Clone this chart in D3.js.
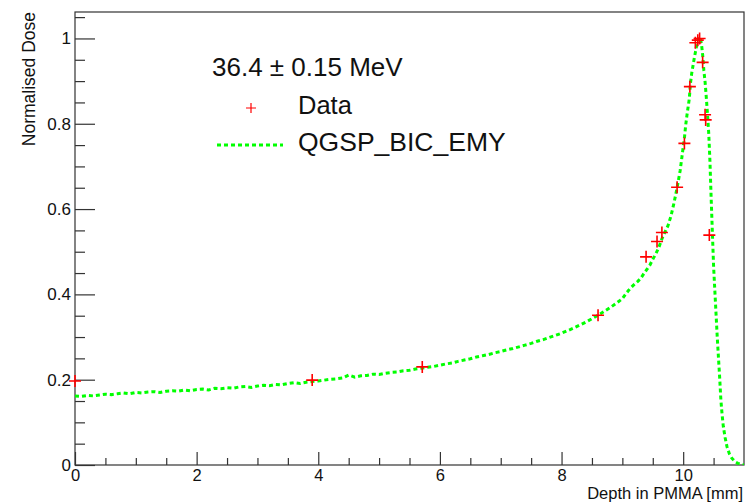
<!DOCTYPE html>
<html>
<head>
<meta charset="utf-8">
<script src="https://cdn.jsdelivr.net/npm/d3@7"></script>
<style>
  html, body { margin: 0; padding: 0; background: #fff; }
  svg { display: block; }
  text { font-family: "Liberation Sans", Arial, Helvetica, sans-serif; fill: #111; }
</style>
</head>
<body>
<svg id="chart" width="752" height="503"></svg>
<script>
// Measured Bragg curve (red crosses)
const dataDepth = [0.00, 3.90, 5.71, 8.60, 9.39, 9.57, 9.65, 9.90, 10.02, 10.11, 10.20, 10.24, 10.27, 10.32, 10.36, 10.37, 10.43];
const dataDose  = [0.197, 0.199, 0.230, 0.351, 0.488, 0.524, 0.545, 0.651, 0.754, 0.887, 0.990, 0.996, 1.000, 0.944, 0.821, 0.809, 0.539];

// Geant4 QGSP_BIC_EMY simulation (green dotted histogram)
const simDepth = [
  0.0, 0.1, 0.2, 0.3, 0.4, 0.5, 0.6, 0.7, 0.8, 0.9,
  1.0, 1.1, 1.2, 1.3, 1.4, 1.5, 1.6, 1.7, 1.8, 1.9,
  2.0, 2.1, 2.2, 2.3, 2.4, 2.5, 2.6, 2.7, 2.8, 2.9,
  3.0, 3.1, 3.2, 3.3, 3.4, 3.5, 3.6, 3.7, 3.8, 3.9,
  4.0, 4.1, 4.2, 4.3, 4.4, 4.5, 4.6, 4.7, 4.8, 4.9,
  5.0, 5.1, 5.2, 5.3, 5.4, 5.5, 5.6, 5.7, 5.8, 5.9,
  6.0, 6.1, 6.2, 6.3, 6.4, 6.5, 6.6, 6.7, 6.8, 6.9,
  7.0, 7.1, 7.2, 7.3, 7.4, 7.5, 7.6, 7.7, 7.8, 7.9,
  8.0, 8.1, 8.2, 8.3, 8.4, 8.5, 8.6, 8.7, 8.8, 8.9,
  9.0, 9.05, 9.10, 9.15, 9.20, 9.25, 9.30, 9.35, 9.40, 9.45,
  9.50, 9.55, 9.60, 9.65, 9.70, 9.75, 9.80, 9.85, 9.90, 9.95,
  10.00, 10.02, 10.04, 10.06, 10.08, 10.10, 10.12, 10.14, 10.16, 10.18,
  10.20, 10.22, 10.24, 10.26, 10.28, 10.30, 10.32, 10.34, 10.36, 10.38,
  10.40, 10.42, 10.44, 10.46, 10.48, 10.50, 10.52, 10.54, 10.56, 10.58,
  10.60, 10.62, 10.64, 10.66, 10.69, 10.72, 10.76, 10.80, 10.85, 10.90,
  10.95, 11.00
];
const simDose = [
  0.162, 0.161, 0.163, 0.162, 0.164, 0.166, 0.165, 0.167, 0.169, 0.167,
  0.170, 0.169, 0.171, 0.172, 0.170, 0.173, 0.174, 0.173, 0.176, 0.174,
  0.177, 0.178, 0.176, 0.180, 0.179, 0.181, 0.180, 0.183, 0.184, 0.182,
  0.185, 0.187, 0.186, 0.189, 0.188, 0.191, 0.193, 0.191, 0.194, 0.196,
  0.197, 0.199, 0.201, 0.202, 0.204, 0.211, 0.206, 0.209, 0.210, 0.213,
  0.212, 0.215, 0.217, 0.218, 0.221, 0.222, 0.225, 0.227, 0.229, 0.231,
  0.234, 0.237, 0.239, 0.243, 0.246, 0.249, 0.253, 0.256, 0.259, 0.263,
  0.266, 0.270, 0.273, 0.277, 0.281, 0.285, 0.290, 0.294, 0.299, 0.304,
  0.309, 0.315, 0.321, 0.328, 0.335, 0.343, 0.351, 0.360, 0.369, 0.379,
  0.390, 0.400, 0.409, 0.417, 0.424, 0.430, 0.437, 0.448, 0.458, 0.468,
  0.482, 0.495, 0.510, 0.530, 0.546, 0.561, 0.584, 0.615, 0.650, 0.690,
  0.745, 0.766, 0.795, 0.818, 0.838, 0.858, 0.895, 0.918, 0.935, 0.952,
  0.967, 0.982, 0.996, 1.003, 1.000, 0.988, 0.962, 0.925, 0.898, 0.862,
  0.822, 0.778, 0.712, 0.625, 0.545, 0.466, 0.410, 0.355, 0.300, 0.252,
  0.205, 0.152, 0.118, 0.090, 0.064, 0.043, 0.026, 0.016, 0.008, 0.004,
  0.001, 0.000
];

const xMajorTicks = [0, 2, 4, 6, 8, 10];
const xTickLabels = ["0", "2", "4", "6", "8", "10"];
const xMinorTicks = [0.5, 1, 1.5, 2.5, 3, 3.5, 4.5, 5, 5.5, 6.5, 7, 7.5, 8.5, 9, 9.5, 10.5];
const yMajorTicks = [0, 0.2, 0.4, 0.6, 0.8, 1.0];
const yTickLabels = ["0", "0.2", "0.4", "0.6", "0.8", "1"];
const yMinorTicks = [0.05, 0.1, 0.15, 0.25, 0.3, 0.35, 0.45, 0.5, 0.55, 0.65, 0.7, 0.75, 0.85, 0.9, 0.95, 1.05];

const xTitle = "Depth in PMMA [mm]";
const yTitle = "Normalised Dose";
const legendHeader = "36.4 \u00B1 0.15 MeV";
const legendData = "Data";
const legendSim = "QGSP_BIC_EMY";

// Frame geometry
const frame = { left: 75, right: 744, top: 12, bottom: 465 };
const svg = d3.select("#chart");

const x = d3.scaleLinear().domain([0, 11]).range([frame.left, frame.right]);
const y = d3.scaleLinear().domain([0, 1.062]).range([frame.bottom, frame.top]);

const AXIS_COLOR = "#333";
const FONT_STACK = '"Liberation Sans", Arial, Helvetica, sans-serif';

// Frame box
svg.append("rect")
  .attr("x", frame.left).attr("y", frame.top)
  .attr("width", frame.right - frame.left).attr("height", frame.bottom - frame.top)
  .attr("fill", "#fff").attr("stroke", AXIS_COLOR).attr("stroke-width", 1.2);

svg.append("clipPath").attr("id", "plotClip")
  .append("rect")
  .attr("x", frame.left).attr("y", frame.top)
  .attr("width", frame.right - frame.left).attr("height", frame.bottom - frame.top);

function styleAxis(size) {
  return g => {
    g.select(".domain").remove();
    g.selectAll(".tick line").attr("stroke", AXIS_COLOR).attr("stroke-width", 1.2);
    g.selectAll(".tick text")
      .attr("fill", "#111")
      .style("font-size", size + "px")
      .style("font-family", FONT_STACK);
  };
}

// X axis: major and minor ticks point into the frame
svg.append("g")
  .attr("transform", `translate(0,${frame.bottom})`)
  .call(d3.axisBottom(x).tickValues(xMajorTicks).tickSize(-13).tickPadding(4)
    .tickFormat((d, i) => xTickLabels[i]))
  .call(styleAxis(16.5));
svg.append("g")
  .attr("transform", `translate(0,${frame.bottom})`)
  .call(d3.axisBottom(x).tickValues(xMinorTicks).tickSize(-7).tickFormat(""))
  .call(styleAxis(16.5));

// Y axis
svg.append("g")
  .attr("transform", `translate(${frame.left},0)`)
  .call(d3.axisLeft(y).tickValues(yMajorTicks).tickSize(-20).tickPadding(4)
    .tickFormat((d, i) => yTickLabels[i]))
  .call(styleAxis(17));
svg.append("g")
  .attr("transform", `translate(${frame.left},0)`)
  .call(d3.axisLeft(y).tickValues(yMinorTicks).tickSize(-10).tickFormat(""))
  .call(styleAxis(17));

// Axis titles
svg.append("text")
  .attr("x", frame.right - 1).attr("y", 499.4)
  .attr("text-anchor", "end")
  .style("font-size", "16.5px")
  .text(xTitle);

svg.append("text")
  .attr("transform", `translate(35,${frame.top}) rotate(-90)`)
  .attr("text-anchor", "end")
  .style("font-size", "17.5px")
  .text(yTitle);

// Simulation curve
const GREEN = "#00ff00";
const simPoints = simDepth.map((d, i) => [d, simDose[i]]);
svg.append("path")
  .datum(simPoints)
  .attr("clip-path", "url(#plotClip)")
  .attr("fill", "none")
  .attr("stroke", GREEN)
  .attr("stroke-width", 3)
  .attr("stroke-dasharray", "4,3")
  .attr("d", d3.line().x(d => x(d[0])).y(d => y(d[1])));

// Data crosses
const RED = "#ff0000";
function crossPath(cx, cy, h) {
  return `M${cx - h},${cy}H${cx + h}M${cx},${cy - h}V${cy + h}`;
}
svg.append("g")
  .selectAll("path")
  .data(dataDepth.map((d, i) => [d, dataDose[i]]))
  .join("path")
  .attr("d", d => crossPath(x(d[0]), y(d[1]), 6))
  .attr("stroke", RED)
  .attr("stroke-width", 1.6)
  .attr("fill", "none");

// Legend
svg.append("text")
  .attr("x", 212).attr("y", 76)
  .style("font-size", "26px")
  .text(legendHeader);

svg.append("path")
  .attr("d", crossPath(251, 108, 5))
  .attr("stroke", RED).attr("stroke-width", 1.2).attr("fill", "none");
svg.append("text")
  .attr("x", 298).attr("y", 114)
  .style("font-size", "25.5px")
  .text(legendData);

svg.append("line")
  .attr("x1", 217).attr("x2", 283).attr("y1", 145).attr("y2", 145)
  .attr("stroke", GREEN).attr("stroke-width", 3).attr("stroke-dasharray", "4,3");
svg.append("text")
  .attr("x", 298).attr("y", 151)
  .style("font-size", "26.5px")
  .text(legendSim);
</script>
</body>
</html>
